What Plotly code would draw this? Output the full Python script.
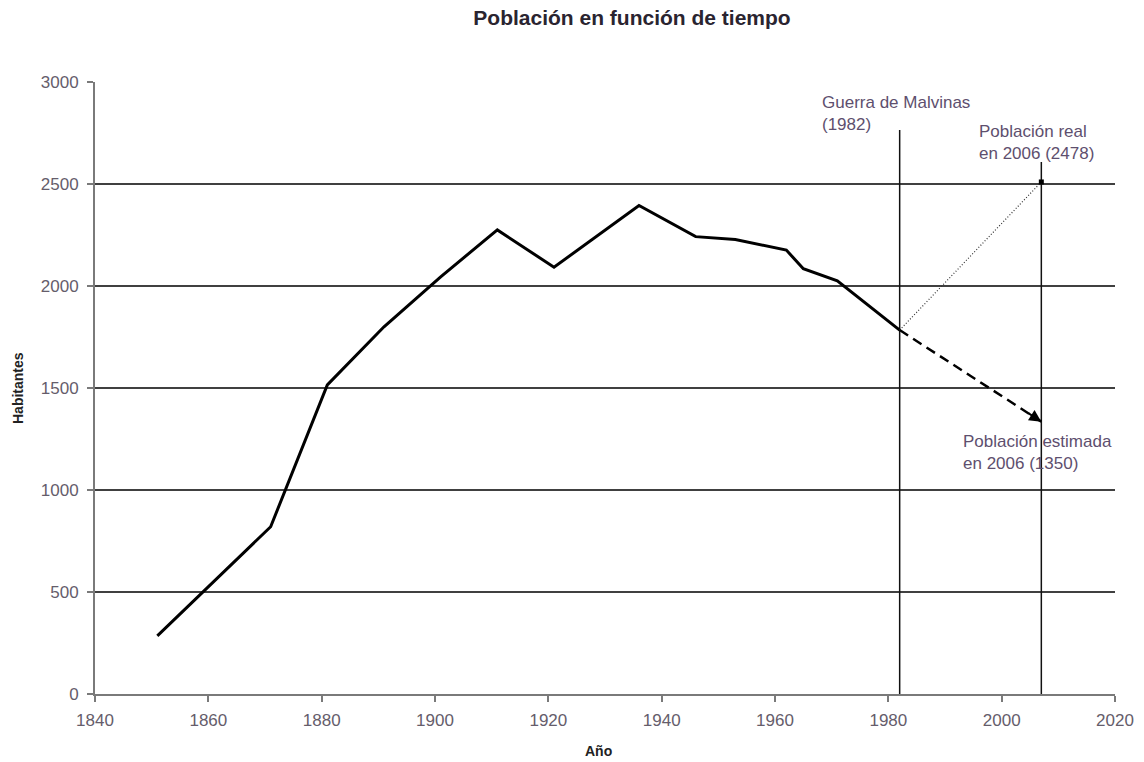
import plotly.graph_objects as go

# ---- data ----
years = [1851, 1861, 1871, 1881, 1891, 1901, 1911, 1921, 1936, 1946, 1950, 1953, 1962, 1965, 1971, 1982]
population = [285, 550, 820, 1515, 1800, 2045, 2275, 2092, 2395, 2242, 2233, 2228, 2176, 2085, 2025, 1784]

real_years = [1982, 2007]
real_pop = [1784, 2510]
est_years = [1982, 2007]
est_pop = [1784, 1335]

event_years = [1982, 2007]
grid_values = [500, 1000, 1500, 2000, 2500]
x_ticks = [1840, 1860, 1880, 1900, 1920, 1940, 1960, 1980, 2000, 2020]
y_ticks = [0, 500, 1000, 1500, 2000, 2500, 3000]

W, H = 1144, 762
L, R, T, B = 95, 29, 82, 68
PW, PH = W - L - R, H - T - B


def px(xp):
    return (xp - L) / PW


def py(yp):
    return (H - B - yp) / PH


FONT = "Liberation Sans, Arial, sans-serif"
TXT = "#5e4f6e"
TICK = "#655d6b"

fig = go.Figure()
fig.add_trace(go.Scatter(x=years, y=population, mode="lines",
                         line=dict(color="black", width=3), hoverinfo="skip"))
fig.add_trace(go.Scatter(x=real_years, y=real_pop, mode="lines",
                         line=dict(color="#333333", width=1.2, dash="1px,2px"), hoverinfo="skip"))
fig.add_trace(go.Scatter(x=real_years[-1:], y=real_pop[-1:], mode="markers",
                         marker=dict(color="black", size=5, symbol="square"), hoverinfo="skip"))
fig.add_trace(go.Scatter(x=est_years, y=est_pop, mode="lines",
                         line=dict(color="black", width=2.5, dash="10px,6px"), hoverinfo="skip"))

shapes = []
for g in grid_values:
    shapes.append(dict(type="line", xref="paper", x0=0, x1=1, yref="y", y0=g, y1=g,
                       line=dict(color="#000000", width=1.3), layer="below"))
tops = [py(130), py(162)]
for ev, top in zip(event_years, tops):
    shapes.append(dict(type="line", xref="x", x0=ev, x1=ev, yref="paper", y0=0, y1=top,
                       line=dict(color="#111111", width=1.5), layer="below"))

annotations = [
    # arrowhead at end of estimated line
    dict(x=est_years[-1], y=est_pop[-1], xref="x", yref="y",
         ax=est_years[-1] - 2.5, ay=est_pop[-1] + 45, axref="x", ayref="y",
         text="", showarrow=True, arrowhead=2, arrowsize=1.2, arrowwidth=2,
         arrowcolor="black", standoff=0),
    dict(x=px(820), y=py(91), xref="paper", yref="paper", xanchor="left", yanchor="top",
         align="left", showarrow=False, text="Guerra de Malvinas<br>(1982)",
         font=dict(family=FONT, size=17, color=TXT)),
    dict(x=px(977), y=py(120), xref="paper", yref="paper", xanchor="left", yanchor="top",
         align="left", showarrow=False, text="Población real<br>en 2006 (2478)",
         font=dict(family=FONT, size=17, color=TXT)),
    dict(x=px(961), y=py(430), xref="paper", yref="paper", xanchor="left", yanchor="top",
         align="left", showarrow=False, text="Población estimada<br>en 2006 (1350)",
         font=dict(family=FONT, size=17, color=TXT)),
    dict(x=px(18), y=0.5, xref="paper", yref="paper", xanchor="center", yanchor="middle",
         textangle=-90, showarrow=False, text="<b>Habitantes</b>",
         font=dict(family=FONT, size=14, color="#222222")),
    dict(x=px(598), y=py(751), xref="paper", yref="paper", xanchor="center", yanchor="middle",
         showarrow=False, text="<b>Año</b>",
         font=dict(family=FONT, size=14, color="#222222")),
]

fig.update_layout(
    width=W, height=H,
    margin=dict(l=L, r=R, t=T, b=B, autoexpand=False),
    paper_bgcolor="white", plot_bgcolor="white",
    showlegend=False,
    title=dict(text="<b>Población en función de tiempo</b>", x=632 / W, xanchor="center",
               y=1 - 18 / H, yanchor="middle", xref="container", yref="container",
               font=dict(family=FONT, size=21, color="#2a2430")),
    xaxis=dict(range=[1840, 2020], tickvals=x_ticks, showgrid=False, zeroline=False,
               showline=True, linecolor="#7a7a7a", linewidth=2, ticks="outside",
               ticklen=6, tickcolor="#7a7a7a", tickwidth=2, ticklabelstandoff=4,
               tickfont=dict(family=FONT, size=17, color=TICK)),
    yaxis=dict(range=[0, 3000], tickvals=y_ticks, showgrid=False, zeroline=False,
               showline=True, linecolor="#7a7a7a", linewidth=2, ticks="outside",
               ticklen=6, tickcolor="#7a7a7a", tickwidth=2, ticklabelstandoff=5,
               tickfont=dict(family=FONT, size=17, color=TICK)),
    shapes=shapes,
    annotations=annotations,
)

fig.write_html(
    "out.html",
    config={"displayModeBar": False},
    post_script="document.body.style.margin='0';document.body.style.overflow='hidden';",
)
